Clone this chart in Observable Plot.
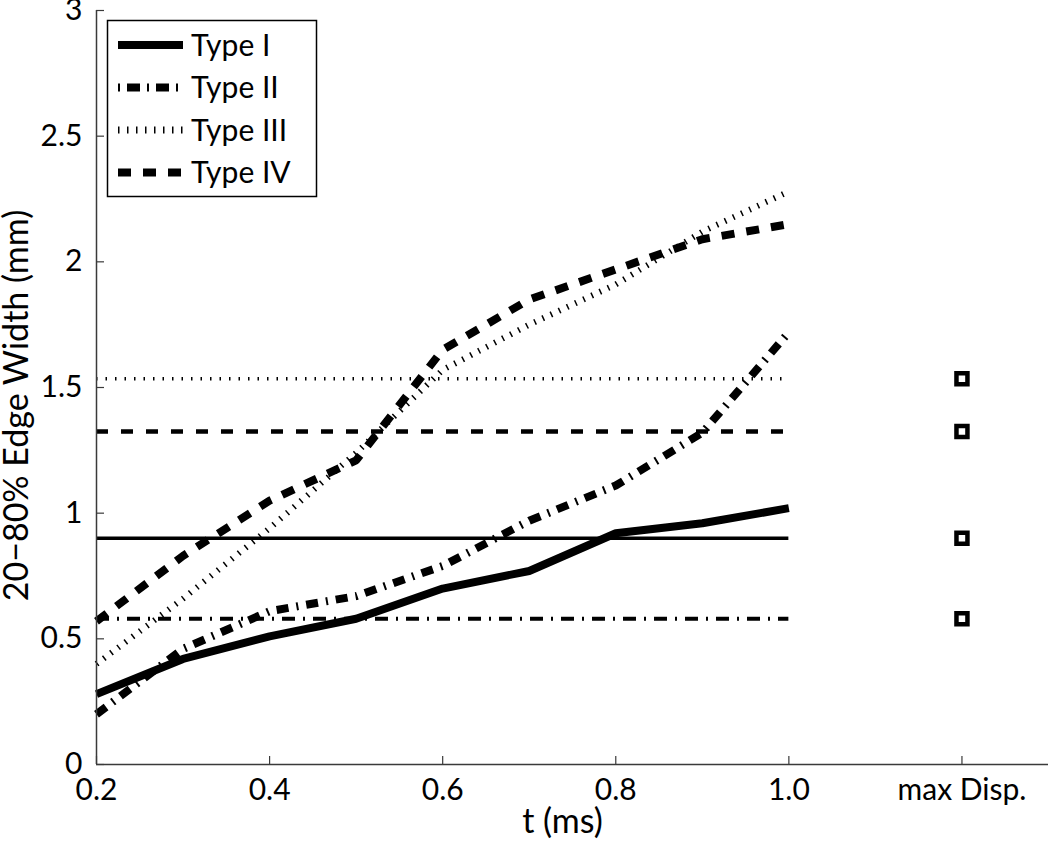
<!DOCTYPE html>
<html><head><meta charset="utf-8">
<script src="https://cdn.jsdelivr.net/npm/d3@7"></script>
<script src="https://cdn.jsdelivr.net/npm/@observablehq/plot@0.6"></script>
<style>
body{margin:0;background:#fff;}
#wrap{position:relative;width:1050px;height:841px;}
#legend{position:absolute;left:0;top:0;pointer-events:none;}
</style></head><body><div id="wrap"></div>
<script>
// ---- data ----
const times   = [0.2, 0.3, 0.4, 0.5, 0.6, 0.7, 0.8, 0.9, 1.0];
const typeI   = [0.28, 0.42, 0.51, 0.58, 0.70, 0.77, 0.92, 0.96, 1.02];
const typeII  = [0.20, 0.46, 0.61, 0.67, 0.79, 0.97, 1.11, 1.32, 1.72];
const typeIII = [0.40, 0.66, 0.94, 1.24, 1.57, 1.75, 1.91, 2.12, 2.28];
const typeIV  = [0.57, 0.83, 1.05, 1.21, 1.65, 1.85, 1.97, 2.09, 2.15];
const seriesNames = ["Type I", "Type II", "Type III", "Type IV"];
const maxDisp = [0.90, 0.58, 1.535, 1.325]; // per type, I..IV
const xTicks = [0.2, 0.4, 0.6, 0.8, 1.0, 1.2];
const xTickLabels = ["0.2", "0.4", "0.6", "0.8", "1.0", "max Disp."];
const yTicks = [0, 0.5, 1, 1.5, 2, 2.5, 3];
const yTickLabels = ["0", "0.5", "1", "1.5", "2", "2.5", "3"];
const xTitle = "t (ms)";
const yTitle = "20−80% Edge Width (mm)";

// ---- styles ----
const curveStyle = [
  {strokeWidth: 8, strokeDasharray: null},
  {strokeWidth: 8, strokeDasharray: "12,8,2,8"},
  {strokeWidth: 6, strokeDasharray: "1.5,7.5"},
  {strokeWidth: 8, strokeDasharray: "13,12"}
];
const refStyle = [
  {strokeWidth: 3.5, strokeDasharray: null},
  {strokeWidth: 4, strokeDasharray: "13,8,2,8"},
  {strokeWidth: 3.5, strokeDasharray: "1.5,8"},
  {strokeWidth: 4.5, strokeDasharray: "12,13"}
];
const legendStyle = [
  {strokeWidth: 8, strokeDasharray: null},
  {strokeWidth: 8, strokeDasharray: "2,7,13,7"},
  {strokeWidth: 7, strokeDasharray: "1.5,7.5"},
  {strokeWidth: 8, strokeDasharray: "13,12"}
];

const values = [typeI, typeII, typeIII, typeIV];
const series = values.map((vals, i) => times.map((t, j) => ({t, v: vals[j], name: seriesNames[i]})));
const maxDispX = xTicks[xTicks.length - 1];
const axisColor = "#3a3a3a";
const FONT = "Lato";

const marks = [];
// horizontal reference lines (max displacement values)
maxDisp.forEach((v, i) => {
  marks.push(Plot.ruleY([v], {x1: times[0], x2: times[times.length - 1], stroke: "black", ...refStyle[i]}));
});
// curves
series.forEach((data, i) => {
  marks.push(Plot.line(data, {x: "t", y: "v", stroke: "black", strokeLinejoin: "miter", strokeLinecap: "butt", ...curveStyle[i]}));
});
// max Disp squares
marks.push(Plot.dot(maxDisp, {x: () => maxDispX, y: d => d, symbol: "square", r: 6.2, fill: "white", stroke: "black", strokeWidth: 4.5}));
// axes
marks.push(Plot.ruleX([times[0]], {stroke: axisColor, strokeWidth: 1.5}));
marks.push(Plot.ruleY([0], {stroke: axisColor, strokeWidth: 1.5}));
marks.push(Plot.axisX(xTicks, {tickSize: -8, tickPadding: 22, stroke: axisColor, strokeWidth: 1.2, fill: "black",
  tickFormat: d => xTickLabels[xTicks.indexOf(d)], label: null}));
marks.push(Plot.axisY(yTicks, {tickSize: -8, tickPadding: 22, stroke: axisColor, strokeWidth: 1.2, fill: "black",
  tickFormat: d => yTickLabels[yTicks.indexOf(d)], label: null}));
// axis titles
marks.push(Plot.text([xTitle], {frameAnchor: "bottom", textAnchor: "middle", lineAnchor: "middle",
  dy: 58, dx: -10, text: d => d, fill: "black", fontSize: 34}));
marks.push(Plot.text([yTitle], {frameAnchor: "left", textAnchor: "middle", lineAnchor: "middle",
  dx: -79, dy: 18, rotate: -90, text: d => d, fill: "black", fontSize: 34}));

const chart = Plot.plot({
  width: 1050, height: 841,
  marginLeft: 96, marginRight: 2, marginTop: 10, marginBottom: 77,
  style: {fontFamily: FONT, fontSize: "30px", color: "black", background: "white", overflow: "visible"},
  x: {domain: [0.2, 1.3]},
  y: {domain: [0, 3]},
  marks
});
const wrap = document.getElementById("wrap");
wrap.appendChild(chart);

// ---- legend overlay ----
const lg = d3.select(wrap).append("svg").attr("id", "legend").attr("width", 1050).attr("height", 841)
  .style("font-family", FONT).style("font-size", "30px");
lg.append("rect").attr("x", 107.5).attr("y", 20.5).attr("width", 209).attr("height", 176)
  .attr("fill", "white").attr("stroke", "black").attr("stroke-width", 1.5);
seriesNames.forEach((name, i) => {
  const yy = 45 + i * 42.5;
  lg.append("line").attr("x1", 118).attr("x2", 183).attr("y1", yy).attr("y2", yy)
    .attr("stroke", "black").attr("stroke-width", legendStyle[i].strokeWidth)
    .attr("stroke-dasharray", legendStyle[i].strokeDasharray);
  lg.append("text").attr("x", 191).attr("y", yy).attr("dy", "0.35em").text(name);
});
</script></body></html>
